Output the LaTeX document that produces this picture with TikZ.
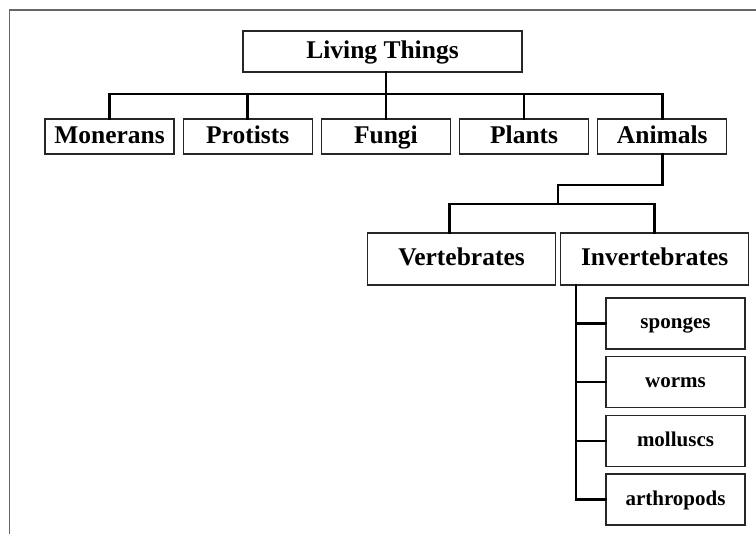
\documentclass[tikz,border=0pt]{standalone}
\usepackage{fontspec}
\setmainfont{Liberation Serif}
\usetikzlibrary{positioning}
\tikzset{
	box/.style = {rectangle, draw=black!85, line width=1.2pt, inner sep=0pt, align=center}, % plain framed box
	bigfont/.style = {font=\bfseries\fontsize{25.5}{28}\selectfont, text height=18pt, text depth=4.5pt},
	smallfont/.style = {font=\bfseries\fontsize{21}{24}\selectfont, text height=14.5pt, text depth=3.5pt},
	link/.style = {-, line width=2.6pt, line cap=rect}
}

\begin{document}
\begin{tikzpicture}[x=1pt,y=1pt]
            \tikzset{kingdom/.style = {box, bigfont, minimum width=129pt, minimum height=35pt}}
            \tikzset{group/.style = {box, bigfont, minimum width=188pt, minimum height=52pt}}
            \tikzset{kind/.style = {box, smallfont, minimum width=139pt, minimum height=51pt}}
            \useasboundingbox (0,0) rectangle (756,-534);
            \draw[gray!80!black, line width=1.5pt] (9.5,-534) -- (9.5,-10) -- (756,-10);
            % top
            \node[box, bigfont, minimum width=279pt, minimum height=41pt] (living) at (382.5,-51.5) {Living Things};
            % kingdoms
            \node[kingdom] (monerans) at (109.5,-136.5) {Monerans};
            \node[kingdom] (protists) [right=8pt of monerans]{Protists};
            \node[kingdom] (fungi) [right=8pt of protists]{Fungi};
            \node[kingdom] (plants) [right=8pt of fungi]{Plants};
            \node[kingdom] (animals) [right=8pt of plants]{Animals};
            % animals
            \node[group] (vertebrates) at (461.5,-259) {Vertebrates};
            \node[group] (invertebrates) [right=4pt of vertebrates]{Invertebrates};
            % invertebrates
            \node[kind] (sponges) at (675.5,-323.5) {sponges};
            \node[kind] (worms) [below=6.5pt of sponges]{worms};
            \node[kind] (molluscs) [below=6.5pt of worms]{molluscs};
            \node[kind] (arthropods) [below=6.5pt of molluscs]{arthropods};
            \coordinate (bus) at (0,-94);
            \coordinate (elbow) at (558,-185);
            \coordinate (bus2) at (0,-204);
            \coordinate (spine) at ([xshift=16pt]invertebrates.south west);
            \draw[link] (living.south -| fungi.north) -- (fungi.north);
            \draw[link] (monerans.north) -- (monerans.north |- bus) -- (animals.north |- bus) -- (animals.north);
            \foreach \n in {protists,plants}
                \draw[link] (\n.north |- bus) -- (\n.north);
            \draw[link] (animals.south) |- (elbow) -- (elbow |- bus2);
            \draw[link] ([xshift=-12pt]vertebrates.north) -- ([xshift=-12pt]vertebrates.north |- bus2) -- (invertebrates.north |- bus2) -- (invertebrates.north);
            \draw[link] (spine) |- (arthropods.west);
            \foreach \n in {sponges,worms,molluscs}
                \draw[link] (spine |- \n.west) -- (\n.west);
        \end{tikzpicture}
\end{document}
